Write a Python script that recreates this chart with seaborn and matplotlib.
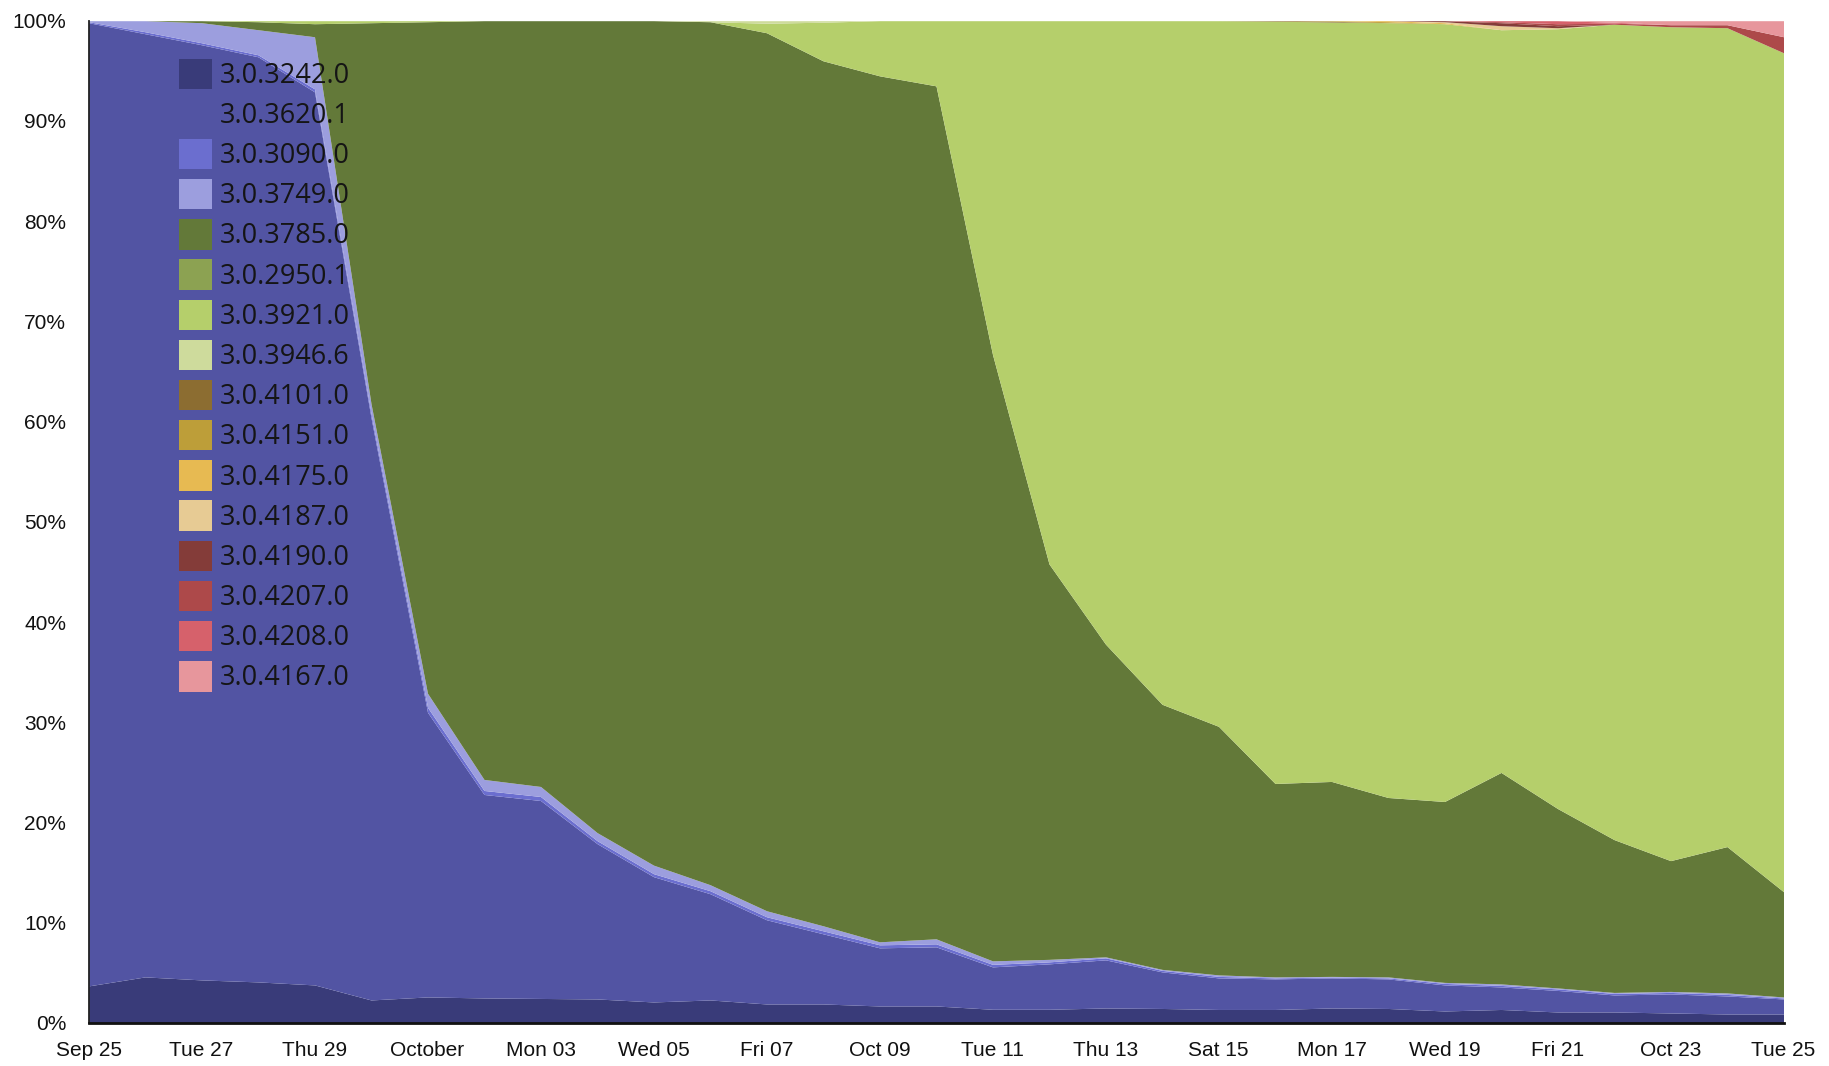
import numpy as np
import pandas as pd
import matplotlib
matplotlib.use("Agg")
import matplotlib.pyplot as plt
import seaborn as sns
from matplotlib.patches import Patch

# ---------------- data (share of installs per day, Sep 25 -> Oct 25 2016) ----------------
days = list(range(31))
tick_days = [0, 2, 4, 6, 8, 10, 12, 14, 16, 18, 20, 22, 24, 26, 28, 30]
tick_labels = ["Sep 25", "Tue 27", "Thu 29", "October", "Mon 03", "Wed 05", "Fri 07",
               "Oct 09", "Tue 11", "Thu 13", "Sat 15", "Mon 17", "Wed 19", "Fri 21",
               "Oct 23", "Tue 25"]
y_ticks = [0.0, 0.1, 0.2, 0.3, 0.4, 0.5, 0.6, 0.7, 0.8, 0.9, 1.0]
y_labels = ["0%", "10%", "20%", "30%", "40%", "50%", "60%", "70%", "80%", "90%", "100%"]

versions = ["3.0.3242.0", "3.0.3620.1", "3.0.3090.0", "3.0.3749.0", "3.0.3785.0",
            "3.0.2950.1", "3.0.3921.0", "3.0.3946.6", "3.0.4101.0", "3.0.4151.0",
            "3.0.4175.0", "3.0.4187.0", "3.0.4190.0", "3.0.4207.0", "3.0.4208.0",
            "3.0.4167.0"]
colors = ["#393b79", "#5254a3", "#6b6ecf", "#9c9ede", "#637939", "#8ca252", "#b5cf6b",
          "#cedb9c", "#8c6d31", "#bd9e39", "#e7ba52", "#e7cb94", "#843c39", "#ad494a",
          "#d6616b", "#e7969c"]

v3242_0 = [3.7, 4.6, 4.3, 4.1, 3.8, 2.3, 2.6, 2.5, 2.45, 2.4, 2.1, 2.3, 1.9, 1.9, 1.7, 1.7,
           1.37, 1.37, 1.5, 1.45, 1.35, 1.35, 1.5, 1.45, 1.2, 1.35, 1.1, 1.1, 1.0, 0.9, 0.9]
v3620_1 = [96.1, 94.1, 93.3, 92.3, 89.1, 58.1, 28.4, 20.3, 19.75, 15.5, 12.5, 10.6, 8.4, 7.0,
           5.8, 5.9, 4.23, 4.53, 4.8, 3.65, 3.15, 3.05, 3.0, 2.95, 2.6, 2.25, 2.15, 1.7, 1.9,
           1.8, 1.5]
v3090_0 = [0.1, 0.2, 0.2, 0.2, 0.3, 0.4, 0.5, 0.4, 0.4, 0.3, 0.3, 0.3, 0.3, 0.3, 0.3, 0.3,
           0.25, 0.2, 0.2, 0.15, 0.15, 0.1, 0.08, 0.1, 0.15, 0.15, 0.15, 0.15, 0.15, 0.15, 0.1]
v3749_0 = [0.1, 1.1, 2.0, 2.5, 5.2, 1.0, 1.4, 1.1, 1.0, 0.8, 0.85, 0.6, 0.6, 0.5, 0.3, 0.5,
           0.35, 0.25, 0.1, 0.1, 0.15, 0.1, 0.07, 0.1, 0.1, 0.15, 0.1, 0.1, 0.1, 0.15, 0.1]
v3785_0 = [0.0, 0.0, 0.2, 0.8, 1.3, 38.0, 67.0, 75.7, 76.4, 81.0, 84.25, 86.1, 87.6, 86.3,
           86.4, 85.1, 60.5, 39.45, 31.2, 26.45, 24.8, 19.3, 19.45, 17.9, 18.05, 21.1, 17.9,
           15.25, 13.05, 14.6, 10.5]
v2950_1 = [0.0, 0.0, 0.0, 0.0, 0.0, 0.0, 0.0, 0.0, 0.0, 0.0, 0.0, 0.0, 0.0, 0.0, 0.0, 0.0,
           0.0, 0.0, 0.0, 0.0, 0.0, 0.0, 0.0, 0.0, 0.0, 0.0, 0.0, 0.0, 0.0, 0.0, 0.0]
v3921_0 = [0.0, 0.0, 0.0, 0.1, 0.3, 0.2, 0.1, 0.0, 0.0, 0.0, 0.0, 0.0, 0.95, 3.85, 5.5, 6.5,
           33.3, 54.2, 62.2, 68.2, 70.4, 76.05, 75.77, 77.3, 77.6, 74.1, 77.8, 81.35, 83.2,
           81.7, 83.7]
v3946_6 = [0.0, 0.0, 0.0, 0.0, 0.0, 0.0, 0.0, 0.0, 0.0, 0.0, 0.0, 0.1, 0.25, 0.15, 0.0, 0.0,
           0.0, 0.0, 0.0, 0.0, 0.0, 0.0, 0.0, 0.0, 0.0, 0.0, 0.0, 0.0, 0.0, 0.0, 0.0]
v4101_0 = [0.0] * 21 + [0.05, 0.08, 0.0, 0.0, 0.0, 0.0, 0.0, 0.0, 0.0, 0.0]
v4151_0 = [0.0] * 21 + [0.0, 0.05, 0.1, 0.0, 0.0, 0.0, 0.0, 0.0, 0.0, 0.0]
v4175_0 = [0.0] * 21 + [0.0, 0.0, 0.1, 0.1, 0.0, 0.0, 0.0, 0.0, 0.0, 0.0]
v4187_0 = [0.0] * 21 + [0.0, 0.0, 0.0, 0.1, 0.4, 0.1, 0.0, 0.0, 0.0, 0.0]
v4190_0 = [0.0] * 21 + [0.0, 0.0, 0.0, 0.1, 0.3, 0.2, 0.0, 0.0, 0.0, 0.0]
v4207_0 = [0.0] * 21 + [0.0, 0.0, 0.0, 0.0, 0.1, 0.2, 0.1, 0.2, 0.3, 1.6]
v4208_0 = [0.0] * 21 + [0.0, 0.0, 0.0, 0.0, 0.1, 0.3, 0.1, 0.0, 0.0, 0.0]
v4167_0 = [0.0] * 21 + [0.0, 0.0, 0.0, 0.0, 0.0, 0.0, 0.15, 0.4, 0.4, 1.6]

series = [v3242_0, v3620_1, v3090_0, v3749_0, v3785_0, v2950_1, v3921_0, v3946_6,
          v4101_0, v4151_0, v4175_0, v4187_0, v4190_0, v4207_0, v4208_0, v4167_0]

df = pd.DataFrame([
    {"day": d, "version": v, "share": s}
    for v, vals in zip(versions, series) for d, s in zip(days, vals)
])
palette = dict(zip(versions, colors))

# ---------------- figure ----------------
sns.set_style("white")
plt.rcParams["font.family"] = ["Liberation Sans", "DejaVu Sans"]

fig = plt.figure(figsize=(18.29, 10.66), dpi=100)
ax = fig.add_axes([88.5 / 1829, 1 - 1023 / 1066, (1783.5 - 88.5) / 1829, (1023 - 20.7) / 1066])

# seaborn stacks the first hue level on top -> reverse so 3.0.3242.0 sits at the bottom
sns.histplot(data=df, x="day", weights="share", hue="version", hue_order=versions[::-1],
             multiple="fill", element="poly", discrete=True, palette=palette,
             alpha=1, linewidth=0, legend=False, ax=ax)

ax.set_xlim(days[0], days[-1])
ax.set_ylim(0, 1)
ax.set_xlabel("")
ax.set_ylabel("")

ax.set_xticks(tick_days)
ax.set_xticklabels(tick_labels)
ax.set_yticks(y_ticks)
ax.set_yticklabels(y_labels)

for side in ["top", "right"]:
    ax.spines[side].set_visible(False)
ax.spines["left"].set_color("#222222")
ax.spines["left"].set_linewidth(1.3)
ax.spines["bottom"].set_color("#111111")
ax.spines["bottom"].set_linewidth(2.0)

ax.tick_params(axis="both", which="major", length=7, width=1.0, color="#dddddd",
               labelsize=15, labelcolor="#111111", direction="out")
ax.tick_params(axis="y", pad=9)
ax.tick_params(axis="x", pad=6)
xt = ax.xaxis.get_major_ticks()
yt = ax.yaxis.get_major_ticks()
for t in (xt[0], xt[-1], yt[0], yt[-1]):
    t.tick1line.set_color("#222222")

handles = [Patch(facecolor=c, edgecolor="none", label=v) for v, c in zip(versions, colors)]
leg = fig.legend(handles=handles, loc="upper left",
                 bbox_to_anchor=(179 / 1829, 1 - 58.5 / 1066),
                 frameon=False, borderpad=0, borderaxespad=0,
                 prop={"family": "Open Sans", "size": 19.5},
                 handlelength=1.2, handleheight=1.35, handletextpad=0.3,
                 labelspacing=0.33)
for txt in leg.get_texts():
    txt.set_color("#151515")

fig.savefig("out.png", dpi=100)
